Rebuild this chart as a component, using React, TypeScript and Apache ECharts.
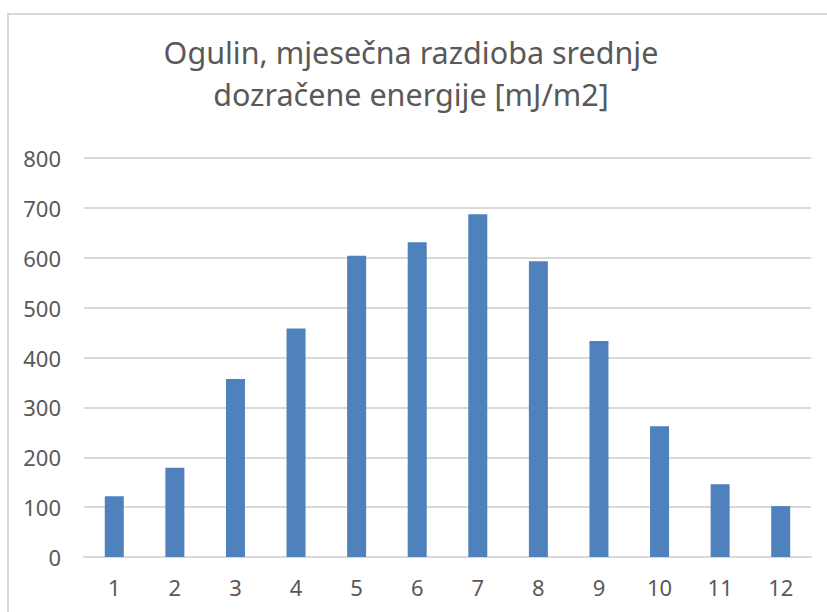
import React, { useEffect, useRef } from "react";
import * as echarts from "echarts";

const titleLines = ["Ogulin, mjesečna razdioba srednje", "dozračene energije [mJ/m2]"];
const months = ["1", "2", "3", "4", "5", "6", "7", "8", "9", "10", "11", "12"];
const energy = [122, 179, 357, 458, 604, 631, 687, 593, 433, 262, 146, 102];
const yTicks = { min: 0, max: 800, interval: 100 };

export default function App() {
  const ref = useRef<HTMLDivElement>(null);
  useEffect(() => {
    if (!ref.current) return;
    const chart = echarts.init(ref.current, null, { renderer: "svg" });
    const font = "'Noto Sans', 'Open Sans', sans-serif";
    chart.setOption({
      animation: false,
      backgroundColor: "#ffffff",
      grid: { left: 84, right: 16, top: 158, bottom: 55, containLabel: false },
      graphic: [
        {
          type: "rect",
          shape: { x: 8, y: 14, width: 840, height: 640 },
          style: { fill: "none", stroke: "#d9d9d9", lineWidth: 2 },
          silent: true,
        },
        {
          type: "text",
          x: 411,
          y: 52,
          style: {
            text: titleLines[0],
            fill: "#595959",
            font: `30.5px ${font}`,
            textAlign: "center",
            textVerticalAlign: "middle",
          },
        },
        {
          type: "text",
          x: 411,
          y: 94,
          style: {
            text: titleLines[1],
            fill: "#595959",
            font: `30.5px ${font}`,
            textAlign: "center",
            textVerticalAlign: "middle",
          },
        },
      ],
      xAxis: {
        type: "category",
        data: months,
        axisLine: { lineStyle: { color: "#d9d9d9", width: 2 } },
        axisTick: { show: false },
        axisLabel: { color: "#595959", fontSize: 22, fontFamily: font, margin: 19 },
      },
      yAxis: {
        type: "value",
        min: yTicks.min,
        max: yTicks.max,
        interval: yTicks.interval,
        axisLine: { show: false },
        axisTick: { show: false },
        splitLine: { lineStyle: { color: "#d9d9d9", width: 2 } },
        axisLabel: { color: "#595959", fontSize: 22, fontFamily: font, margin: 23 },
      },
      series: [
        {
          type: "bar",
          data: energy,
          barWidth: 19,
          itemStyle: { color: "#4f81bd" },
        },
      ],
    });
    return () => chart.dispose();
  }, []);
  return (
    <div
      ref={ref}
      style={{ position: "fixed", left: 0, top: 0, width: 827, height: 612 }}
    />
  );
}
